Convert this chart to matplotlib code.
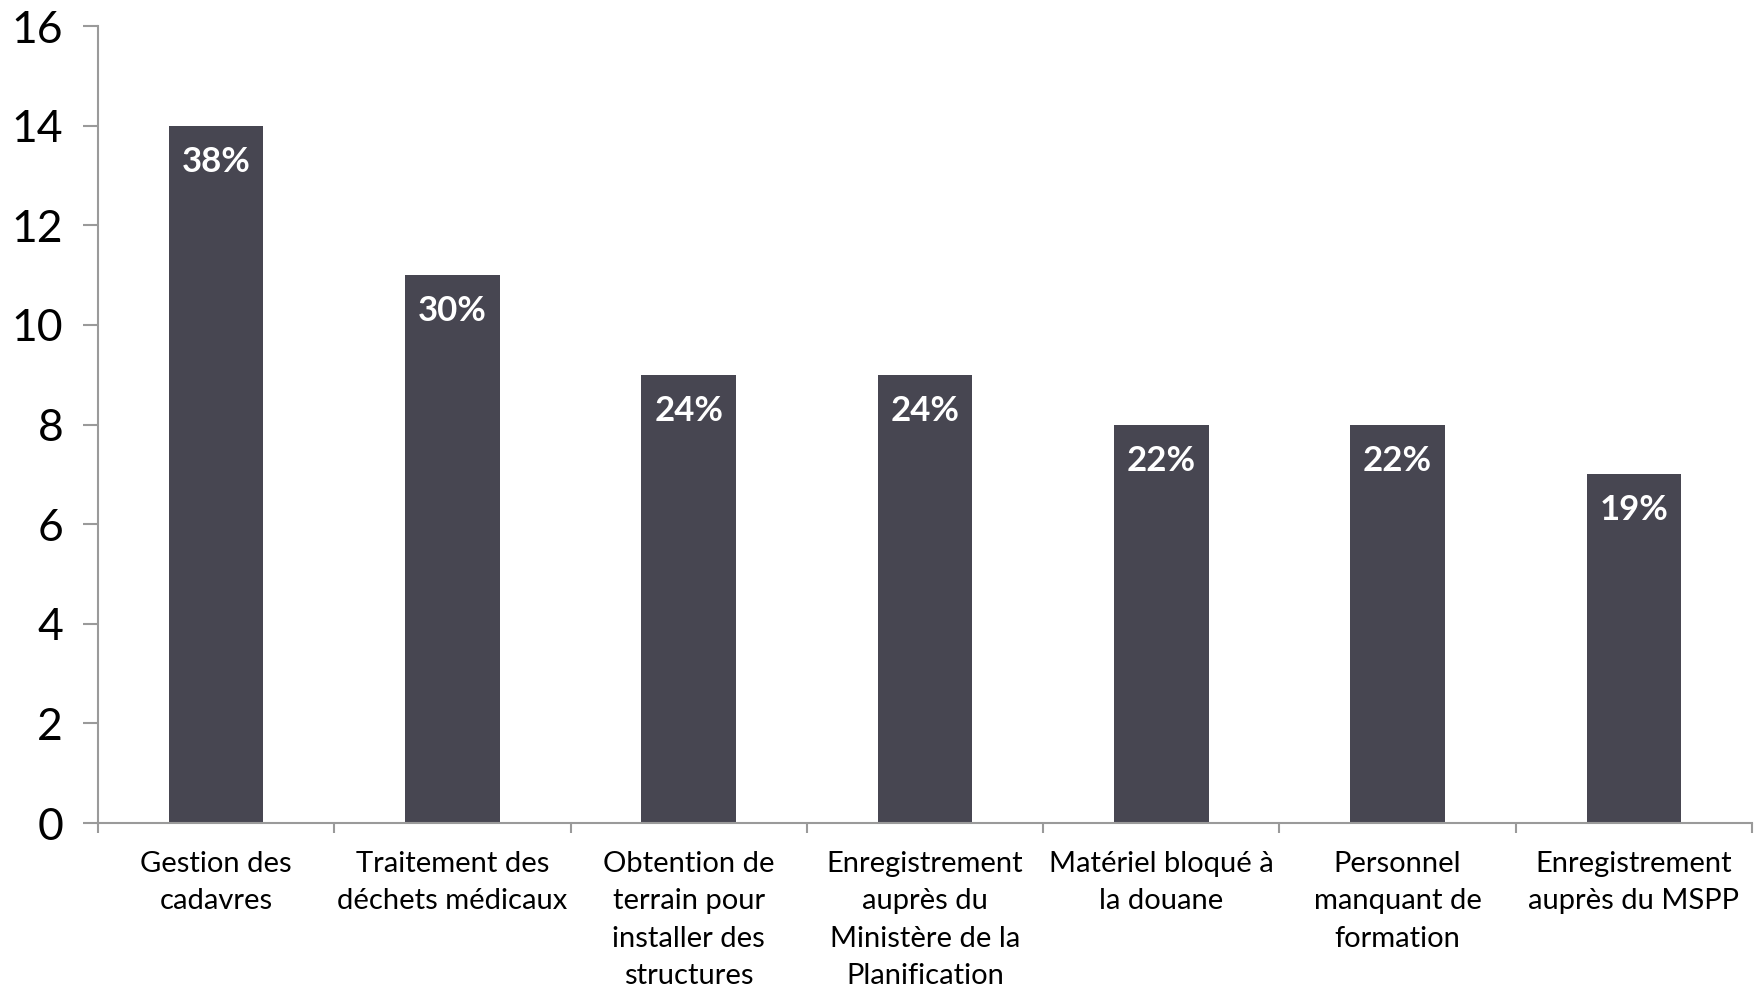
import numpy as np
import matplotlib.pyplot as plt

categories = ["Gestion des\ncadavres", "Traitement des\ndéchets médicaux",
              "Obtention de\nterrain pour\ninstaller des\nstructures",
              "Enregistrement\nauprès du\nMinistère de la\nPlanification",
              "Matériel bloqué à\nla douane", "Personnel\nmanquant de\nformation",
              "Enregistrement\nauprès du MSPP"]
counts = [14, 11, 9, 9, 8, 8, 7]
pct_labels = ["38%", "30%", "24%", "24%", "22%", "22%", "19%"]

plt.rcParams['font.family'] = ['Lato', 'DejaVu Sans']
grey = '#9a9a9a'

fig = plt.figure(figsize=(17.58, 9.89), dpi=100)
ax = fig.add_axes([0.0557, 0.1678, 0.9409, 0.8059])

x = np.arange(len(categories))
bars = ax.bar(x, counts, width=0.4, color='#474651')

for b, lab in zip(bars, pct_labels):
    ax.annotate(lab, (b.get_x() + b.get_width() / 2, b.get_height()),
                xytext=(0, -36), textcoords='offset pixels',
                ha='center', va='center', color='white',
                fontsize=25, fontweight='bold')

ax.set_xlim(-0.5, len(categories) - 0.5)
ax.set_ylim(0, 16)
ax.set_yticks(range(0, 17, 2))
ax.tick_params(axis='y', labelsize=32, length=11, width=1.5, color=grey, pad=14)

ax.set_xticks(x)
ax.set_xticklabels(categories, fontsize=21, linespacing=1.55)
ax.set_xticks(np.arange(-0.5, len(categories)), minor=True)
ax.tick_params(axis='x', which='major', length=0, pad=20)
ax.tick_params(axis='x', which='minor', length=7, width=1.5, color=grey)

for s in ['top', 'right']:
    ax.spines[s].set_visible(False)
for s in ['left', 'bottom']:
    ax.spines[s].set_color(grey)
    ax.spines[s].set_linewidth(1.5)

fig.savefig('out.png', dpi=100)
